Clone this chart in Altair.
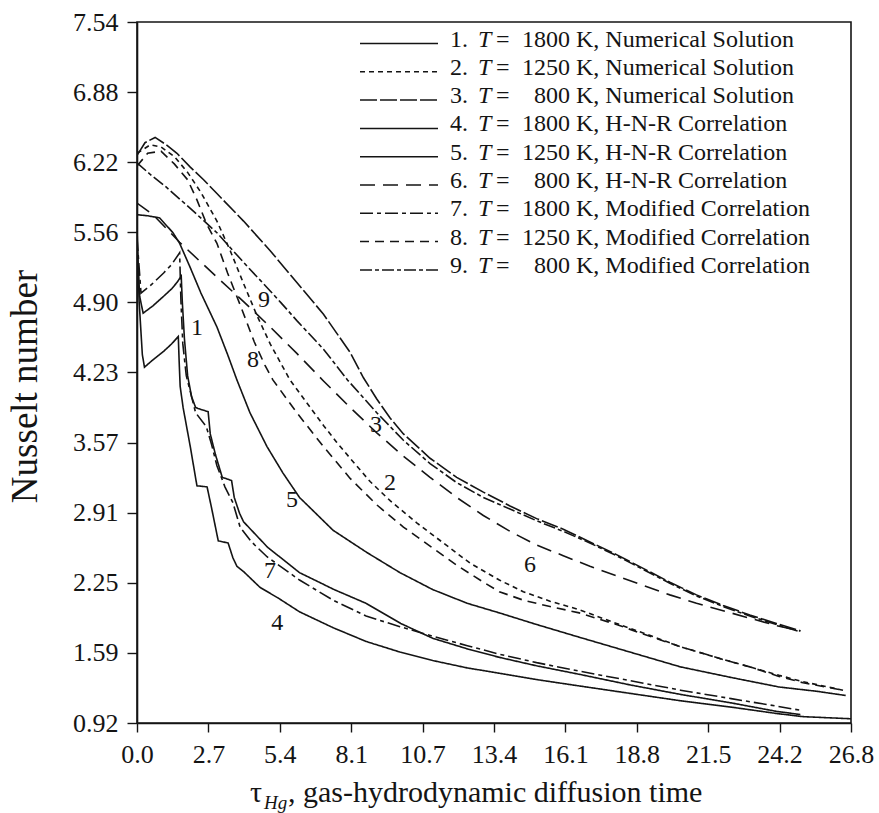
import json
import altair as alt
import pandas as pd

# ---------------- axes ----------------
X_MIN, X_MAX = 0.0, 26.8
Y_MIN, Y_MAX = 0.92, 7.54
X_TICK_LABELS = ['0.0', '2.7', '5.4', '8.1', '10.7', '13.4', '16.1', '18.8', '21.5', '24.2', '26.8']
Y_TICK_LABELS = ['0.92', '1.59', '2.25', '2.91', '3.57', '4.23', '4.90', '5.56', '6.22', '6.88', '7.54']

# ---------------- curves (tau, Nusselt number) ----------------
# 1. T = 1800 K, numerical solution
c1_x = [0.0, 0.1, 0.23, 0.6, 1.0, 1.3, 1.5, 1.66, 1.70, 1.78, 1.90, 2.05, 2.20, 2.29, 2.67, 2.75, 2.95, 3.20, 3.55,
        3.65, 3.85, 4.0, 4.3, 4.9, 6.1, 7.4, 8.6, 9.9, 11.1, 12.4, 13.6, 15.0, 16.6, 18.5, 20.4, 22.3, 24.0, 24.9]
c1_y = [5.45, 4.95, 4.79, 4.86, 4.95, 5.02, 5.08, 5.14, 4.90, 4.55, 4.20, 4.00, 3.90, 3.89, 3.86, 3.65, 3.45, 3.24, 3.21,
        3.05, 2.90, 2.82, 2.74, 2.58, 2.34, 2.18, 2.05, 1.86, 1.72, 1.62, 1.54, 1.46, 1.38, 1.28, 1.19, 1.11, 1.03, 1.00]
# 2. T = 1250 K, numerical solution
c2_x = [0.0, 0.5, 0.9, 1.4, 1.9, 2.4, 3.0, 3.5, 4.0, 4.5, 5.0, 5.74, 6.5, 7.0, 7.5, 8.0, 8.75, 9.5, 10.5, 11.5, 12.5,
        13.6, 14.5, 15.5, 16.6, 18.0, 19.0, 20.4, 22.0, 23.0, 24.1, 25.0, 26.5]
c2_y = [6.30, 6.38, 6.36, 6.27, 6.12, 5.93, 5.66, 5.38, 5.07, 4.77, 4.50, 4.16, 3.90, 3.73, 3.57, 3.42, 3.20, 3.02, 2.81,
        2.62, 2.43, 2.27, 2.16, 2.07, 1.99, 1.86, 1.77, 1.64, 1.52, 1.45, 1.37, 1.31, 1.23]
# 3. T = 800 K, numerical solution
c3_x = [0.0, 0.3, 0.68, 1.1, 1.5, 2.0, 2.5, 3.0, 4.0, 5.0, 6.0, 7.0, 8.0, 8.5, 9.0, 9.5, 10.0, 11.0, 12.0, 13.0, 14.0,
        15.0, 16.0, 17.0, 18.0, 19.0, 20.0, 21.0, 22.0, 23.0, 24.0, 24.9]
c3_y = [6.28, 6.40, 6.45, 6.38, 6.30, 6.17, 6.05, 5.92, 5.66, 5.38, 5.08, 4.78, 4.42, 4.18, 3.98, 3.80, 3.65, 3.42, 3.24,
        3.10, 2.97, 2.85, 2.75, 2.63, 2.51, 2.38, 2.25, 2.13, 2.03, 1.94, 1.86, 1.79]
# 4. T = 1800 K, H-N-R correlation
c4_x = [0.0, 0.08, 0.2, 0.28, 0.6, 1.0, 1.3, 1.55, 1.58, 1.62, 1.73, 2.0, 2.25, 2.63, 2.8, 3.05, 3.42, 3.6, 3.75, 4.0,
        4.62, 5.3, 6.1, 7.36, 8.6, 9.87, 11.1, 12.4, 13.6, 15.0, 16.6, 18.5, 20.4, 22.3, 24.0, 25.0, 26.8]
c4_y = [5.60, 4.90, 4.40, 4.28, 4.35, 4.43, 4.50, 4.57, 4.35, 4.10, 3.90, 3.53, 3.16, 3.15, 2.95, 2.64, 2.62, 2.48, 2.40,
        2.35, 2.20, 2.10, 1.97, 1.82, 1.69, 1.59, 1.51, 1.44, 1.39, 1.33, 1.27, 1.20, 1.13, 1.07, 1.01, 0.98, 0.96]
# 5. T = 1250 K, H-N-R correlation
c5_x = [0.0, 0.4, 0.85, 1.35, 1.6, 2.0, 2.4, 3.0, 3.4, 3.75, 4.24, 4.88, 5.48, 6.1, 7.36, 8.63, 9.87, 11.1, 12.4, 13.6,
        15.0, 16.6, 18.5, 20.4, 22.3, 24.1, 25.5, 26.6]
c5_y = [5.72, 5.71, 5.69, 5.55, 5.45, 5.22, 4.98, 4.66, 4.40, 4.16, 3.85, 3.53, 3.28, 3.05, 2.74, 2.53, 2.34, 2.18, 2.05,
        1.96, 1.85, 1.73, 1.59, 1.45, 1.35, 1.26, 1.22, 1.18]
# 6. T = 800 K, H-N-R correlation
c6_x = [0.0, 0.6, 1.6, 3.0, 4.0, 5.0, 6.0, 7.0, 8.0, 9.0, 10.0, 11.0, 12.0, 13.0, 14.0, 15.0, 16.0, 17.0, 18.0, 19.0,
        20.0, 21.0, 22.0, 23.0, 24.0, 24.9]
c6_y = [5.83, 5.72, 5.46, 5.13, 4.90, 4.66, 4.41, 4.15, 3.90, 3.66, 3.44, 3.24, 3.05, 2.88, 2.73, 2.60, 2.50, 2.40, 2.31,
        2.22, 2.13, 2.05, 1.98, 1.91, 1.84, 1.79]
# 7. T = 1800 K, modified correlation
c7_x = [0.0, 0.15, 0.5, 1.0, 1.3, 1.6, 1.65, 1.72, 1.85, 2.0, 2.2, 2.6, 2.8, 3.0, 3.3, 3.6, 3.87, 4.3, 4.88, 6.1, 7.36,
        8.6, 9.87, 11.1, 12.4, 13.6, 15.0, 16.6, 18.5, 20.4, 22.3, 24.0, 24.9]
c7_y = [5.50, 4.98, 5.05, 5.17, 5.25, 5.36, 4.90, 4.50, 4.20, 4.05, 3.85, 3.72, 3.55, 3.35, 3.15, 3.00, 2.77, 2.63, 2.49,
        2.27, 2.08, 1.93, 1.83, 1.74, 1.65, 1.57, 1.49, 1.41, 1.32, 1.23, 1.15, 1.08, 1.04]
# 8. T = 1250 K, modified correlation
c8_x = [0.0, 0.4, 0.9, 1.4, 1.9, 2.25, 2.6, 3.0, 3.4, 3.9, 4.4, 4.8, 5.1, 6.0, 7.0, 8.0, 9.0, 10.0, 11.0, 12.0, 13.0,
        13.6, 14.5, 15.5, 16.6, 18.0, 19.0, 20.4, 22.0, 23.0, 24.1, 25.0, 26.5]
c8_y = [6.18, 6.30, 6.32, 6.20, 6.05, 5.86, 5.64, 5.45, 5.17, 4.85, 4.52, 4.30, 4.16, 3.85, 3.53, 3.23, 2.98, 2.77, 2.59,
        2.41, 2.25, 2.16, 2.08, 2.02, 1.96, 1.85, 1.76, 1.64, 1.52, 1.45, 1.36, 1.30, 1.23]
# 9. T = 800 K, modified correlation
c9_x = [0.0, 0.5, 1.1, 2.0, 3.0, 4.0, 5.0, 5.4, 6.0, 7.0, 7.9, 9.0, 10.0, 11.0, 12.0, 13.0, 14.0, 15.0, 16.0, 17.0,
        18.0, 19.0, 20.0, 21.0, 22.0, 23.0, 24.0, 24.9]
c9_y = [6.21, 6.10, 5.98, 5.78, 5.55, 5.27, 5.00, 4.89, 4.72, 4.45, 4.16, 3.85, 3.59, 3.37, 3.19, 3.05, 2.94, 2.83, 2.73,
        2.62, 2.50, 2.37, 2.24, 2.12, 2.02, 1.93, 1.85, 1.78]

SERIES = ['1', '2', '3', '4', '5', '6', '7', '8', '9']
CURVES = [(c1_x, c1_y), (c2_x, c2_y), (c3_x, c3_y), (c4_x, c4_y), (c5_x, c5_y),
          (c6_x, c6_y), (c7_x, c7_y), (c8_x, c8_y), (c9_x, c9_y)]

# line patterns of the nine curves
DASHES = [[1, 0], [5, 4], [17, 3], [1, 0], [1, 0], [15, 8], [13, 4, 4, 4], [9, 6], [12, 3, 4, 3]]

# numbers written next to the curves
LABEL_TEXT = ['1', '2', '3', '4', '5', '6', '7', '8', '9']
LABEL_X = [2.25, 9.50, 8.97, 5.26, 5.82, 14.75, 4.99, 4.35, 4.77]
LABEL_Y = [4.65, 3.19, 3.73, 1.86, 3.03, 2.41, 2.36, 4.35, 4.91]

# legend entries
LEG_NUM = ['1.', '2.', '3.', '4.', '5.', '6.', '7.', '8.', '9.']
LEG_TEMP = ['1800', '1250', '800'] * 3
LEG_METHOD = ['Numerical Solution'] * 3 + ['H-N-R Correlation'] * 3 + ['Modified Correlation'] * 3

# ---------------- layout ----------------
PAD_L, PAD_T, PAD_R, PAD_B = 137, 22, 28, 90
W, H = 714, 701
FONT = 'Liberation Serif'
INK = '#141414'


def px_to_x(px):
    return X_MIN + (px - PAD_L) / W * (X_MAX - X_MIN)


def py_to_y(py):
    return Y_MIN + (PAD_T + H - py) / H * (Y_MAX - Y_MIN)


x_step = (X_MAX - X_MIN) / (len(X_TICK_LABELS) - 1)
y_step = (Y_MAX - Y_MIN) / (len(Y_TICK_LABELS) - 1)
x_ticks = [X_MIN + i * x_step for i in range(len(X_TICK_LABELS))]
y_ticks = [Y_MIN + i * y_step for i in range(len(Y_TICK_LABELS))]

x_axis = alt.Axis(values=x_ticks, title=None, grid=False, tickSize=9, labelPadding=9,
                  labelFlush=False, labelOverlap=False,
                  labelExpr=f"{json.dumps(X_TICK_LABELS)}[round((datum.value - {X_MIN}) / {x_step})]")
y_axis = alt.Axis(values=y_ticks, grid=False, tickSize=10, labelPadding=9,
                  labelFlush=False, labelOverlap=False,
                  labelExpr=f"{json.dumps(Y_TICK_LABELS)}[round((datum.value - {Y_MIN}) / {y_step})]",
                  title='Nusselt number', titleFont=FONT, titleFontSize=37, titleFontWeight='normal',
                  titleColor=INK, titleAngle=270, titleAlign='center', titleBaseline='middle',
                  titleX=-112, titleY=364)

X = alt.X('x:Q', scale=alt.Scale(domain=[X_MIN, X_MAX], nice=False, zero=False), axis=x_axis)
Y = alt.Y('y:Q', scale=alt.Scale(domain=[Y_MIN, Y_MAX], nice=False, zero=False), axis=y_axis)
DASH = alt.StrokeDash('series:N', scale=alt.Scale(domain=SERIES, range=DASHES), legend=None)

# ---------------- data tables ----------------
rows = []
for name, (xs, ys) in zip(SERIES, CURVES, strict=True):
    for i, (xv, yv) in enumerate(zip(xs, ys, strict=True)):
        rows.append({'series': name, 'i': i, 'x': xv, 'y': yv})
curves_df = pd.DataFrame(rows)

labels_df = pd.DataFrame({'x': LABEL_X, 'y': LABEL_Y, 'text': LABEL_TEXT})

ROW0, ROW_GAP = 46.5, 28.3          # legend text baselines (pixels from top)
legend_rows = []
for k, name in enumerate(SERIES):
    base = ROW0 + k * ROW_GAP
    legend_rows.append({
        'series': name,
        'x': px_to_x(360), 'x2': px_to_x(438), 'y_line': py_to_y(base - 3),
        'y': py_to_y(base),
        'x_num': px_to_x(450), 'x_T': px_to_x(478), 'x_eq': px_to_x(496),
        'x_temp': px_to_x(570), 'x_rest': px_to_x(576),
        'num': LEG_NUM[k], 'temp': LEG_TEMP[k], 'rest': 'K, ' + LEG_METHOD[k],
        'T': 'T', 'eq': '=',
    })
legend_df = pd.DataFrame(legend_rows)

# ---------------- layers ----------------
lines = alt.Chart(curves_df).mark_line(color=INK, strokeWidth=1.6, clip=True).encode(
    x=X, y=Y, strokeDash=DASH, detail='series:N', order='i:Q')

curve_labels = alt.Chart(labels_df).mark_text(font=FONT, fontSize=24, color=INK).encode(
    x=X, y=Y, text='text:N')

legend_lines = alt.Chart(legend_df).mark_rule(color=INK, strokeWidth=1.5).encode(
    x=X, x2='x2:Q', y=alt.Y('y_line:Q', scale=alt.Scale(domain=[Y_MIN, Y_MAX], nice=False, zero=False), axis=y_axis),
    strokeDash=DASH)


def legend_text(xfield, tfield, align='left', style='normal'):
    return alt.Chart(legend_df).mark_text(font=FONT, fontSize=24, color=INK, align=align,
                                          baseline='alphabetic', fontStyle=style).encode(
        x=alt.X(f'{xfield}:Q', scale=alt.Scale(domain=[X_MIN, X_MAX], nice=False, zero=False), axis=x_axis),
        y=Y, text=f'{tfield}:N')


leg_num = legend_text('x_num', 'num')
leg_T = legend_text('x_T', 'T', style='italic')
leg_eq = legend_text('x_eq', 'eq')
leg_temp = legend_text('x_temp', 'temp', align='right')
leg_rest = legend_text('x_rest', 'rest')

# x-axis title with subscript
title_tau = alt.Chart(pd.DataFrame({'t': ['τ']})).mark_text(
    font=FONT, fontSize=30, color=INK, align='left', baseline='alphabetic').encode(
    x=alt.value(113), y=alt.value(780), text='t:N')
title_sub = alt.Chart(pd.DataFrame({'t': ['Hg']})).mark_text(
    font=FONT, fontSize=19, fontStyle='italic', color=INK, align='left', baseline='alphabetic').encode(
    x=alt.value(127), y=alt.value(787), text='t:N')
title_rest = alt.Chart(pd.DataFrame({'t': [', gas-hydrodynamic diffusion time']})).mark_text(
    font=FONT, fontSize=30, color=INK, align='left', baseline='alphabetic').encode(
    x=alt.value(151), y=alt.value(780), text='t:N')

chart = alt.layer(
    lines, curve_labels, legend_lines, leg_num, leg_T, leg_eq, leg_temp, leg_rest,
    title_tau, title_sub, title_rest,
).properties(
    width=W, height=H,
    padding={'left': PAD_L, 'top': PAD_T, 'right': PAD_R, 'bottom': PAD_B},
    autosize=alt.AutoSizeParams(type='none'),
    background='white',
).configure_view(
    stroke=INK, strokeWidth=1.6,
).configure_axis(
    labelFont=FONT, labelFontSize=26, labelColor=INK,
    domainColor=INK, domainWidth=1.6, tickColor=INK, tickWidth=1.4,
)

chart.save('out.html', embed_options={'renderer': 'svg', 'actions': False})
